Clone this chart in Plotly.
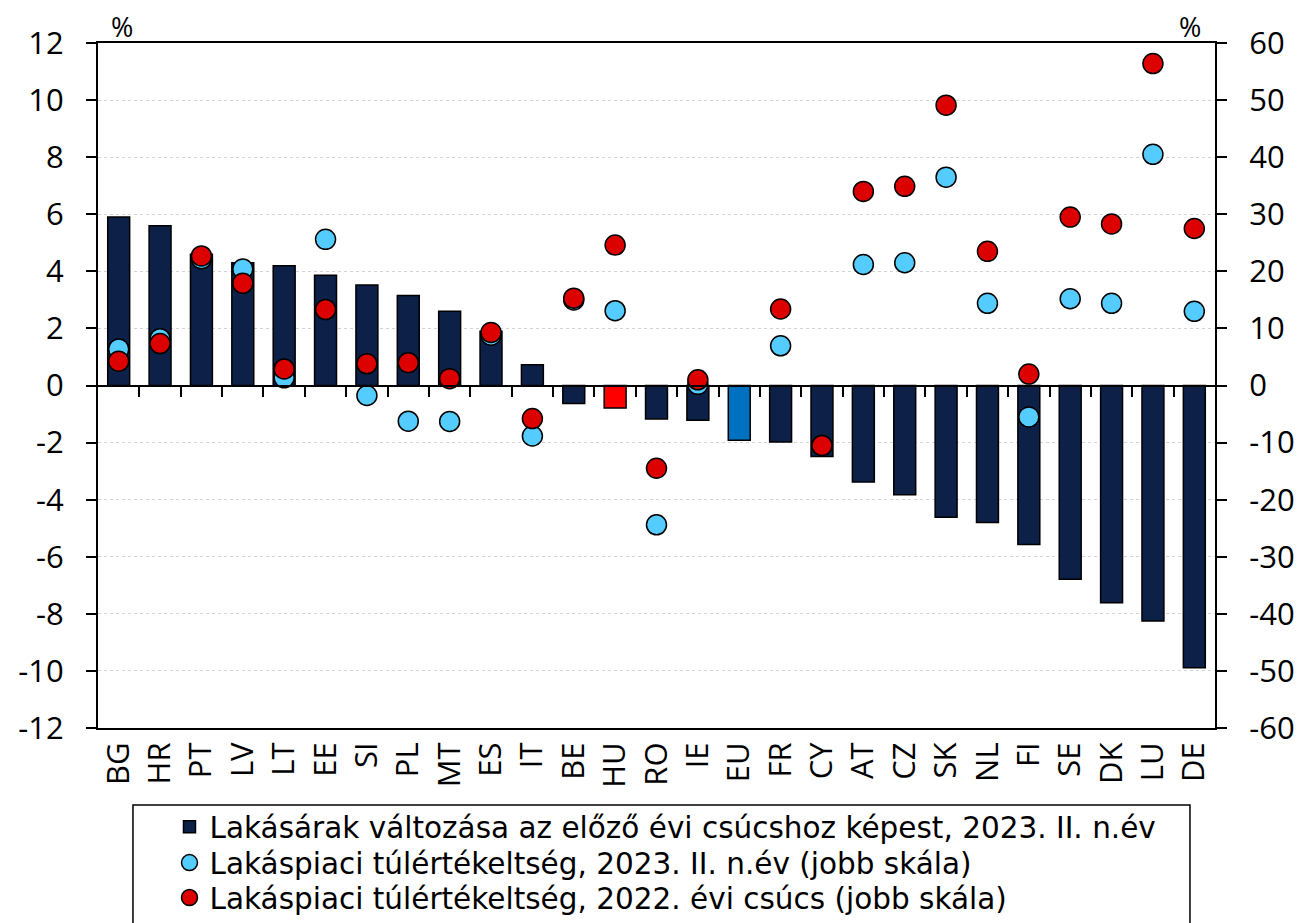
import plotly.graph_objects as go

categories = ["BG", "HR", "PT", "LV", "LT", "EE", "SI", "PL", "MT", "ES", "IT", "BE", "HU", "RO",
              "IE", "EU", "FR", "CY", "AT", "CZ", "SK", "NL", "FI", "SE", "DK", "LU", "DE"]

price_change = [5.9, 5.6, 4.6, 4.3, 4.2, 3.86, 3.52, 3.15, 2.6, 1.9, 0.73, -0.63, -0.79, -1.17,
                -1.22, -1.92, -1.98, -2.49, -3.38, -3.83, -4.62, -4.8, -5.57, -6.79, -7.61, -8.25, -9.89]

overval_2023 = [6.4, 8.2, 22.2, 20.4, 1.35, 25.6, -1.75, -6.25, -6.3, 8.8, -8.85, 15.0, 13.1, -24.4,
                0.2, None, 6.95, -10.5, 21.2, 21.5, 36.5, 14.4, -5.5, 15.2, 14.4, 40.5, 13.0]

overval_2022 = [4.25, 7.35, 22.7, 17.9, 2.9, 13.3, 3.8, 4.0, 1.2, 9.3, -5.8, 15.3, 24.6, -14.5,
                1.0, None, 13.4, -10.5, 34.0, 34.9, 49.1, 23.5, 2.0, 29.5, 28.3, 56.4, 27.5]

left_ticks = list(range(-12, 13, 2))
right_ticks = list(range(-60, 61, 10))
left_tick_text = [str(v) for v in left_ticks]
right_tick_text = [str(v) for v in right_ticks]

legend_names = [
    "Lakásárak változása az előző évi csúcshoz képest, 2023. II. n.év",
    "Lakáspiaci túlértékeltség, 2023. II. n.év (jobb skála)",
    "Lakáspiaci túlértékeltség, 2022. évi csúcs (jobb skála)",
]

NAVY = "#0C2048"
bar_colors = []
for c in categories:
    if c == "HU":
        bar_colors.append("#FF0000")
    elif c == "EU":
        bar_colors.append("#0070C0")
    else:
        bar_colors.append(NAVY)

FONT = "'Open Sans', Lato, sans-serif"
LEG_FONT = "'DejaVu Sans', 'Open Sans', sans-serif"

fig = go.Figure()
fig.add_trace(go.Bar(
    x=categories, y=price_change, name=legend_names[0], legend="legend",
    marker=dict(color=bar_colors, line=dict(color="black", width=1.5)),
    width=0.53, xaxis="x", yaxis="y",
))
fig.add_trace(go.Scatter(
    x=categories, y=overval_2023, name=legend_names[1], mode="markers", legend="legend2",
    marker=dict(color="#55CCFF", size=20, line=dict(color="black", width=1.5)),
    xaxis="x", yaxis="y2",
))
fig.add_trace(go.Scatter(
    x=categories, y=overval_2022, name=legend_names[2], mode="markers", legend="legend3",
    marker=dict(color="#DD0000", size=20, line=dict(color="black", width=1.5)),
    xaxis="x", yaxis="y2",
))
# helper trace so the zero-line tick axis is drawn
fig.add_trace(go.Scatter(
    x=list(range(len(categories))), y=[None] * len(categories), mode="none",
    showlegend=False, hoverinfo="skip", xaxis="x2", yaxis="y",
))

n = len(categories)
TICKFONT = 31
leg_common = dict(xanchor="left", yanchor="middle", borderwidth=0,
                  bgcolor="rgba(0,0,0,0)", itemsizing="trace",
                  font=dict(size=29.5, family=LEG_FONT))

fig.update_layout(
    width=1295, height=915,
    margin=dict(l=90, r=88, t=35, b=195, autoexpand=False),
    paper_bgcolor="white", plot_bgcolor="white",
    font=dict(family=FONT, size=30, color="black"),
    showlegend=True,
    xaxis=dict(
        type="category", categoryorder="array", categoryarray=categories,
        range=[-0.5, n - 0.5], tickangle=-90, ticks="", showgrid=False,
        showline=True, linecolor="black", linewidth=2, mirror=True,
        tickfont=dict(size=TICKFONT), zeroline=False, automargin=False,
    ),
    xaxis2=dict(
        overlaying="x", anchor="free", position=0.5, side="bottom",
        range=[-0.5, n - 0.5], tickvals=[i + 0.5 for i in range(n - 1)],
        ticks="outside", ticklen=10, tickwidth=1.5, tickcolor="black",
        showticklabels=False, showgrid=False, zeroline=False,
        showline=True, linecolor="black", linewidth=2,
    ),
    yaxis=dict(
        range=[-12, 12], tickvals=left_ticks, ticktext=left_tick_text,
        ticks="outside", ticklen=10,
        tickwidth=1.5, tickcolor="black", ticklabelstandoff=16,
        showline=True, linecolor="black", linewidth=2,
        showgrid=True, gridcolor="#D3D3D3", griddash="dot", gridwidth=1,
        zeroline=False, tickfont=dict(size=TICKFONT), automargin=False,
    ),
    yaxis2=dict(
        range=[-60, 60], tickvals=right_ticks, ticktext=right_tick_text,
        overlaying="y", side="right",
        ticks="outside", ticklen=10, tickwidth=1.5, tickcolor="black",
        ticklabelstandoff=16,
        showline=True, linecolor="black", linewidth=2,
        showgrid=False, zeroline=False, tickfont=dict(size=TICKFONT), automargin=False,
    ),
    legend=dict(x=0.064, y=-0.1445, **leg_common),
    legend2=dict(x=0.064, y=-0.197, **leg_common),
    legend3=dict(x=0.064, y=-0.248, **leg_common),
    shapes=[
        dict(type="rect", xref="paper", yref="paper", x0=0.0313, x1=0.9776,
             y0=-0.1124, y1=-0.45, line=dict(color="black", width=1.5),
             fillcolor="rgba(0,0,0,0)", layer="below"),
    ],
    annotations=[
        dict(text="%", xref="paper", yref="paper", x=0.0215, y=1.0234, xanchor="center",
             yanchor="middle", showarrow=False, font=dict(size=27)),
        dict(text="%", xref="paper", yref="paper", x=0.9776, y=1.0234, xanchor="center",
             yanchor="middle", showarrow=False, font=dict(size=27)),
    ],
)

fig.write_html("out.html")
